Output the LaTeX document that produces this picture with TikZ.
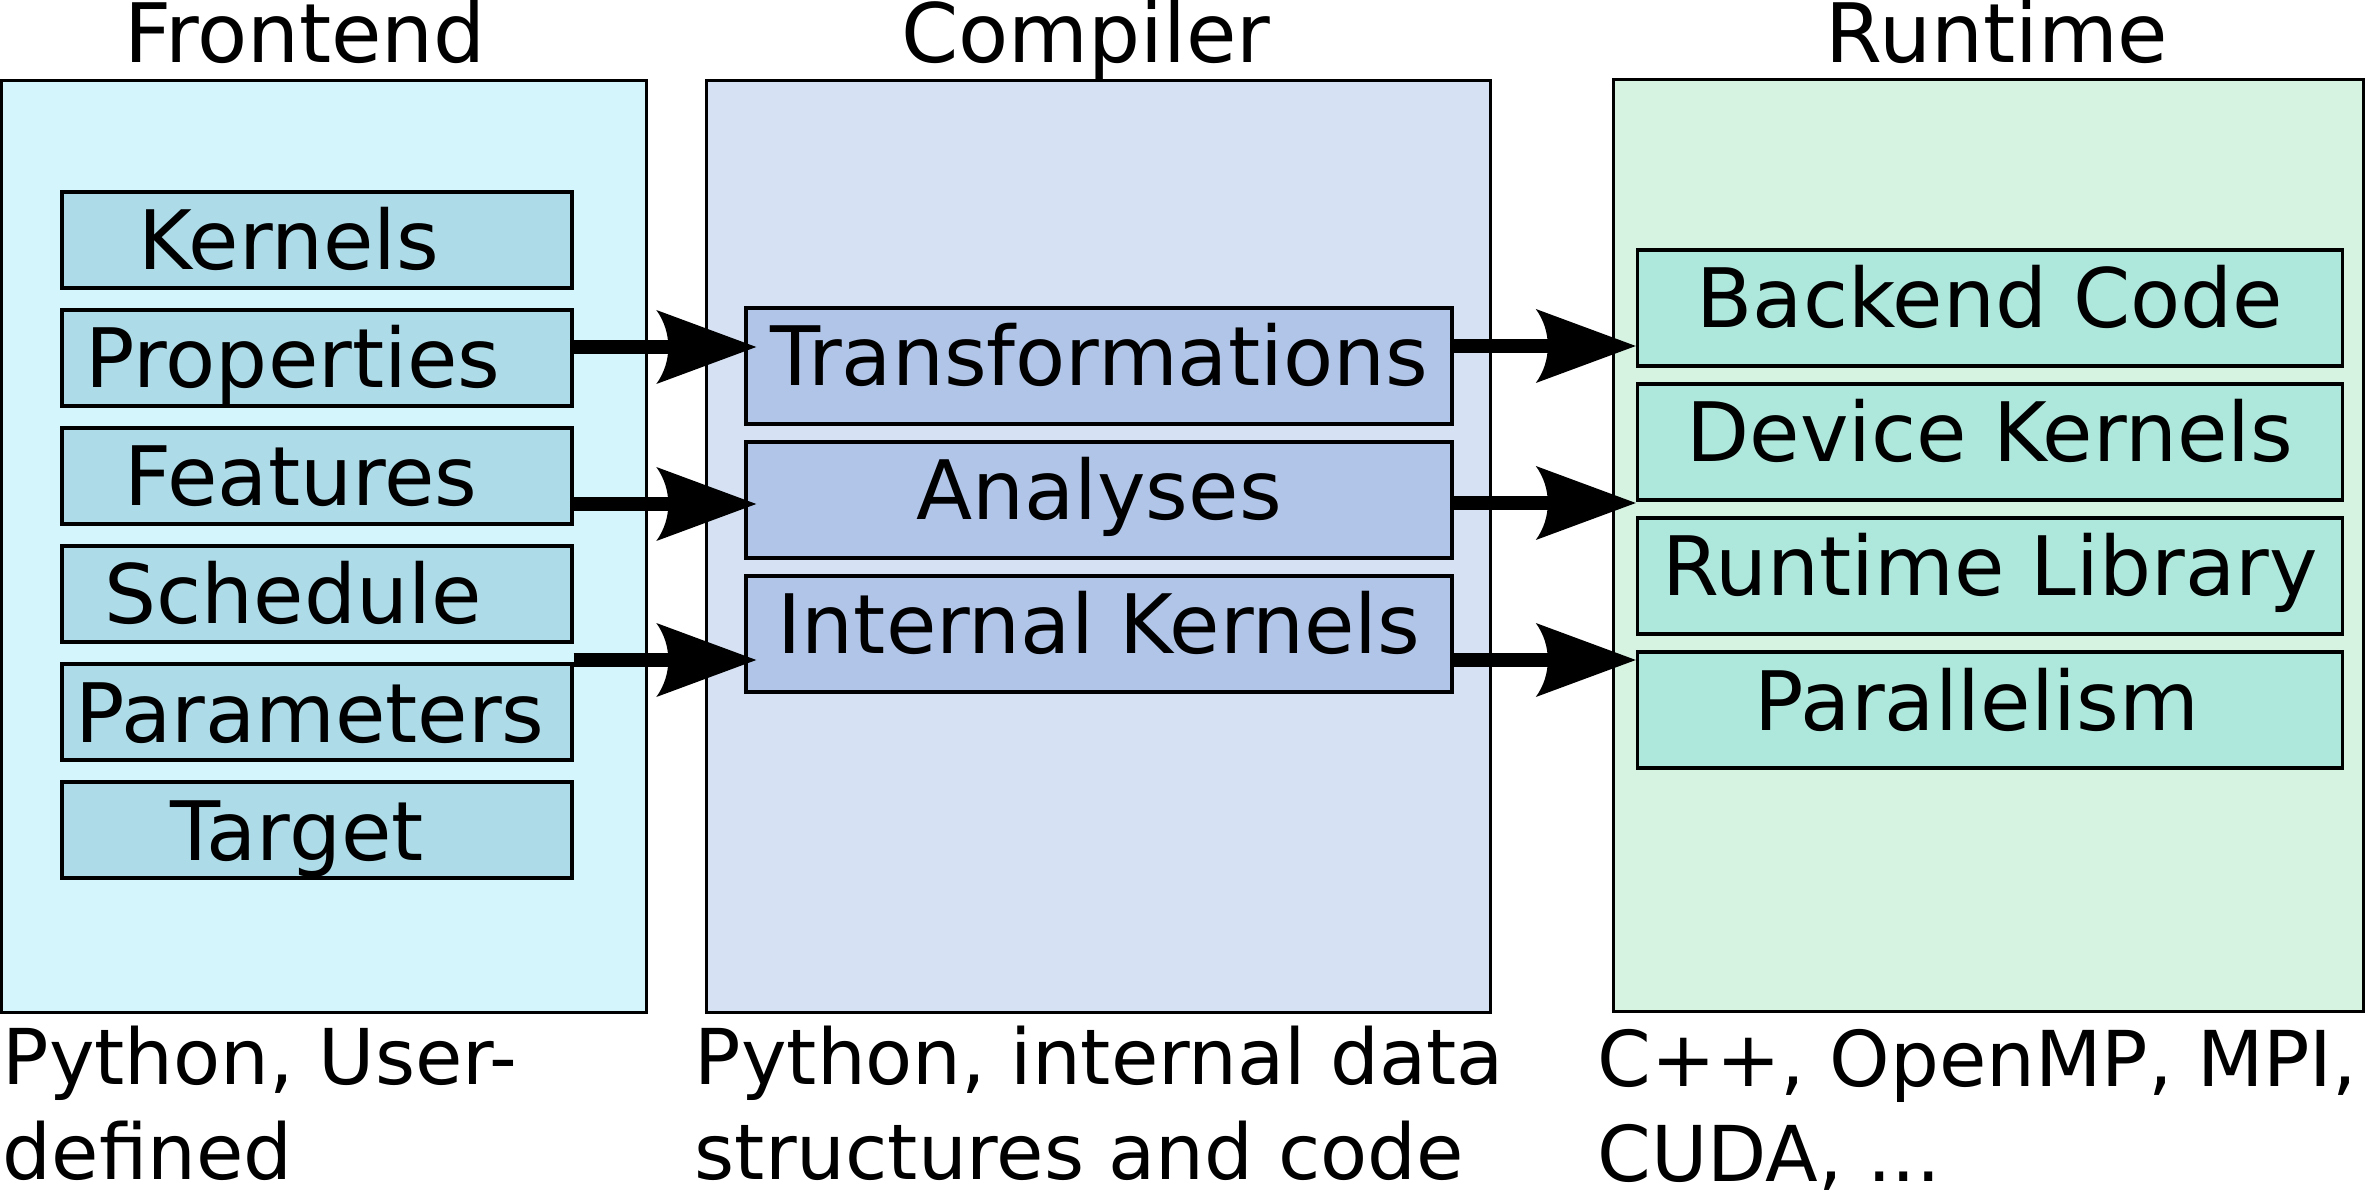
\documentclass[tikz,border=0pt]{standalone}
\usepackage{fontspec}
\setmainfont{DejaVu Sans}
\usetikzlibrary{arrows.meta,calc}
\definecolor{fouter}{RGB}{213,245,253}
\definecolor{finner}{RGB}{173,220,232}
\definecolor{couter}{RGB}{214,226,243}
\definecolor{cinner}{RGB}{176,197,232}
\definecolor{router}{RGB}{214,243,226}
\definecolor{rinner}{RGB}{174,232,221}
\pgfdeclarearrow{
  name = Ink,
  defaults = { length = 25pt, width = 18.5pt },
  setup code = {
    \pgfarrowssettipend{0pt}
    \pgfarrowssetlineend{-.8\pgfarrowlength}
    \pgfarrowssetbackend{-\pgfarrowlength}
    \pgfarrowssetvisualbackend{-.88\pgfarrowlength}
    \pgfarrowshullpoint{0pt}{0pt}
    \pgfarrowsupperhullpoint{-\pgfarrowlength}{.5\pgfarrowwidth}
    \pgfarrowssavethe\pgfarrowlength
    \pgfarrowssavethe\pgfarrowwidth
  },
  drawing code = {
    \pgfpathmoveto{\pgfqpoint{0pt}{0pt}}
    \pgfpathlineto{\pgfqpoint{-\pgfarrowlength}{.5\pgfarrowwidth}}
    \pgfpathcurveto{\pgfqpoint{-.84\pgfarrowlength}{.2\pgfarrowwidth}}{\pgfqpoint{-.84\pgfarrowlength}{-.2\pgfarrowwidth}}{\pgfqpoint{-\pgfarrowlength}{-.5\pgfarrowwidth}}
    \pgfpathclose
    \pgfusepathqfill
  },
  parameters = { \the\pgfarrowlength,\the\pgfarrowwidth },
}
\begin{document}
\begin{tikzpicture}[x=0.25pt,y=-0.25pt,
  every node/.style={font=\fontsize{20.5pt}{23.75pt}\selectfont, inner sep=0pt},
  outerbox/.style={draw=black, line width=0.75pt, minimum height=232.75pt},
  fbox/.style={draw=black, line width=0.85pt, fill=finner, minimum width=127.5pt, minimum height=24pt, text height=19.5pt, text depth=4.5pt},
  cbox/.style={draw=black, line width=0.85pt, fill=cinner, minimum width=176.5pt, minimum height=29pt, text height=19.5pt, text depth=9.5pt},
  rbox/.style={draw=black, line width=0.85pt, fill=rinner, minimum width=176.25pt, minimum height=29pt, text height=19.5pt, text depth=9.5pt},
  arr/.style={line width=3.5pt, -{Ink[length=25pt,width=18.5pt]}},
  title/.style={anchor=base},
  note/.style={anchor=base west, align=left, font=\fontsize{19.25pt}{23.75pt}\selectfont}
]
\useasboundingbox (0,0) rectangle (2366,1197);
% outer boxes
\node[outerbox, fill=fouter, minimum width=161.25pt] (front) at (324,546.5) {};
\node[outerbox, fill=couter, minimum width=196pt] (comp) at (1098,546.5) {};
\node[outerbox, fill=router, minimum width=187.5pt] (run) at (1988,545.5) {};
% titles
\node[title] (tfront) at (305,63) {Frontend};
\node[title] (tcomp) at (1086,63) {Compiler};
\node[title] (trun) at (1997,63) {Runtime};
% frontend boxes
\node[fbox] (kern) at (317,240) {Kernels\hspace*{14pt}};
\node[fbox] (prop) at (317,358) {Properties\hspace*{12pt}};
\node[fbox] (feat) at (317,476) {Features\hspace*{8pt}};
\node[fbox] (sched) at (317,594) {Schedule\hspace*{12pt}};
\node[fbox] (param) at (317,712) {Parameters\hspace*{3.5pt}};
\node[fbox] (targ) at (317,830) {Target\hspace*{10pt}};
% compiler boxes
\node[cbox] (trans) at (1099,366) {Transformations};
\node[cbox] (anal) at (1099,500) {Analyses};
\node[cbox] (intk) at (1099,634) {Internal Kernels};
% runtime boxes
\node[rbox] (back) at (1990,308) {Backend Code};
\node[rbox] (dev) at (1990,442) {Device Kernels};
\node[rbox] (rlib) at (1990,576) {Runtime Library};
\node[rbox] (par) at (1990,710) {Parallelism\hspace*{6.5pt}};
% arrows
\draw[arr] ($(prop.east)+(0,-11)$) -- ($(trans.west)+(12,-19)$);
\draw[arr] ($(feat.east)+(0,28)$) -- ($(anal.west)+(12,4)$);
\draw[arr] ($(param.east)+(0,-52)$) -- ($(intk.west)+(12,26)$);
\draw[arr] ($(trans.east)+(0,-20)$) -- ($(back.west)+(0,38)$);
\draw[arr] ($(anal.east)+(0,3)$) -- ($(dev.west)+(0,61)$);
\draw[arr] ($(intk.east)+(0,26)$) -- ($(par.west)+(0,-50)$);
% bottom notes (anchored at the baseline of the last line)
\node[note] (nfront) at (2,1179) {Python, User-\\defined};
\node[note] (ncomp) at (694,1179) {Python, internal data\\structures and code};
\node[note] (nrun) at (1597,1181) {C++, OpenMP, MPI,\\CUDA, ...};
\end{tikzpicture}
\end{document}
